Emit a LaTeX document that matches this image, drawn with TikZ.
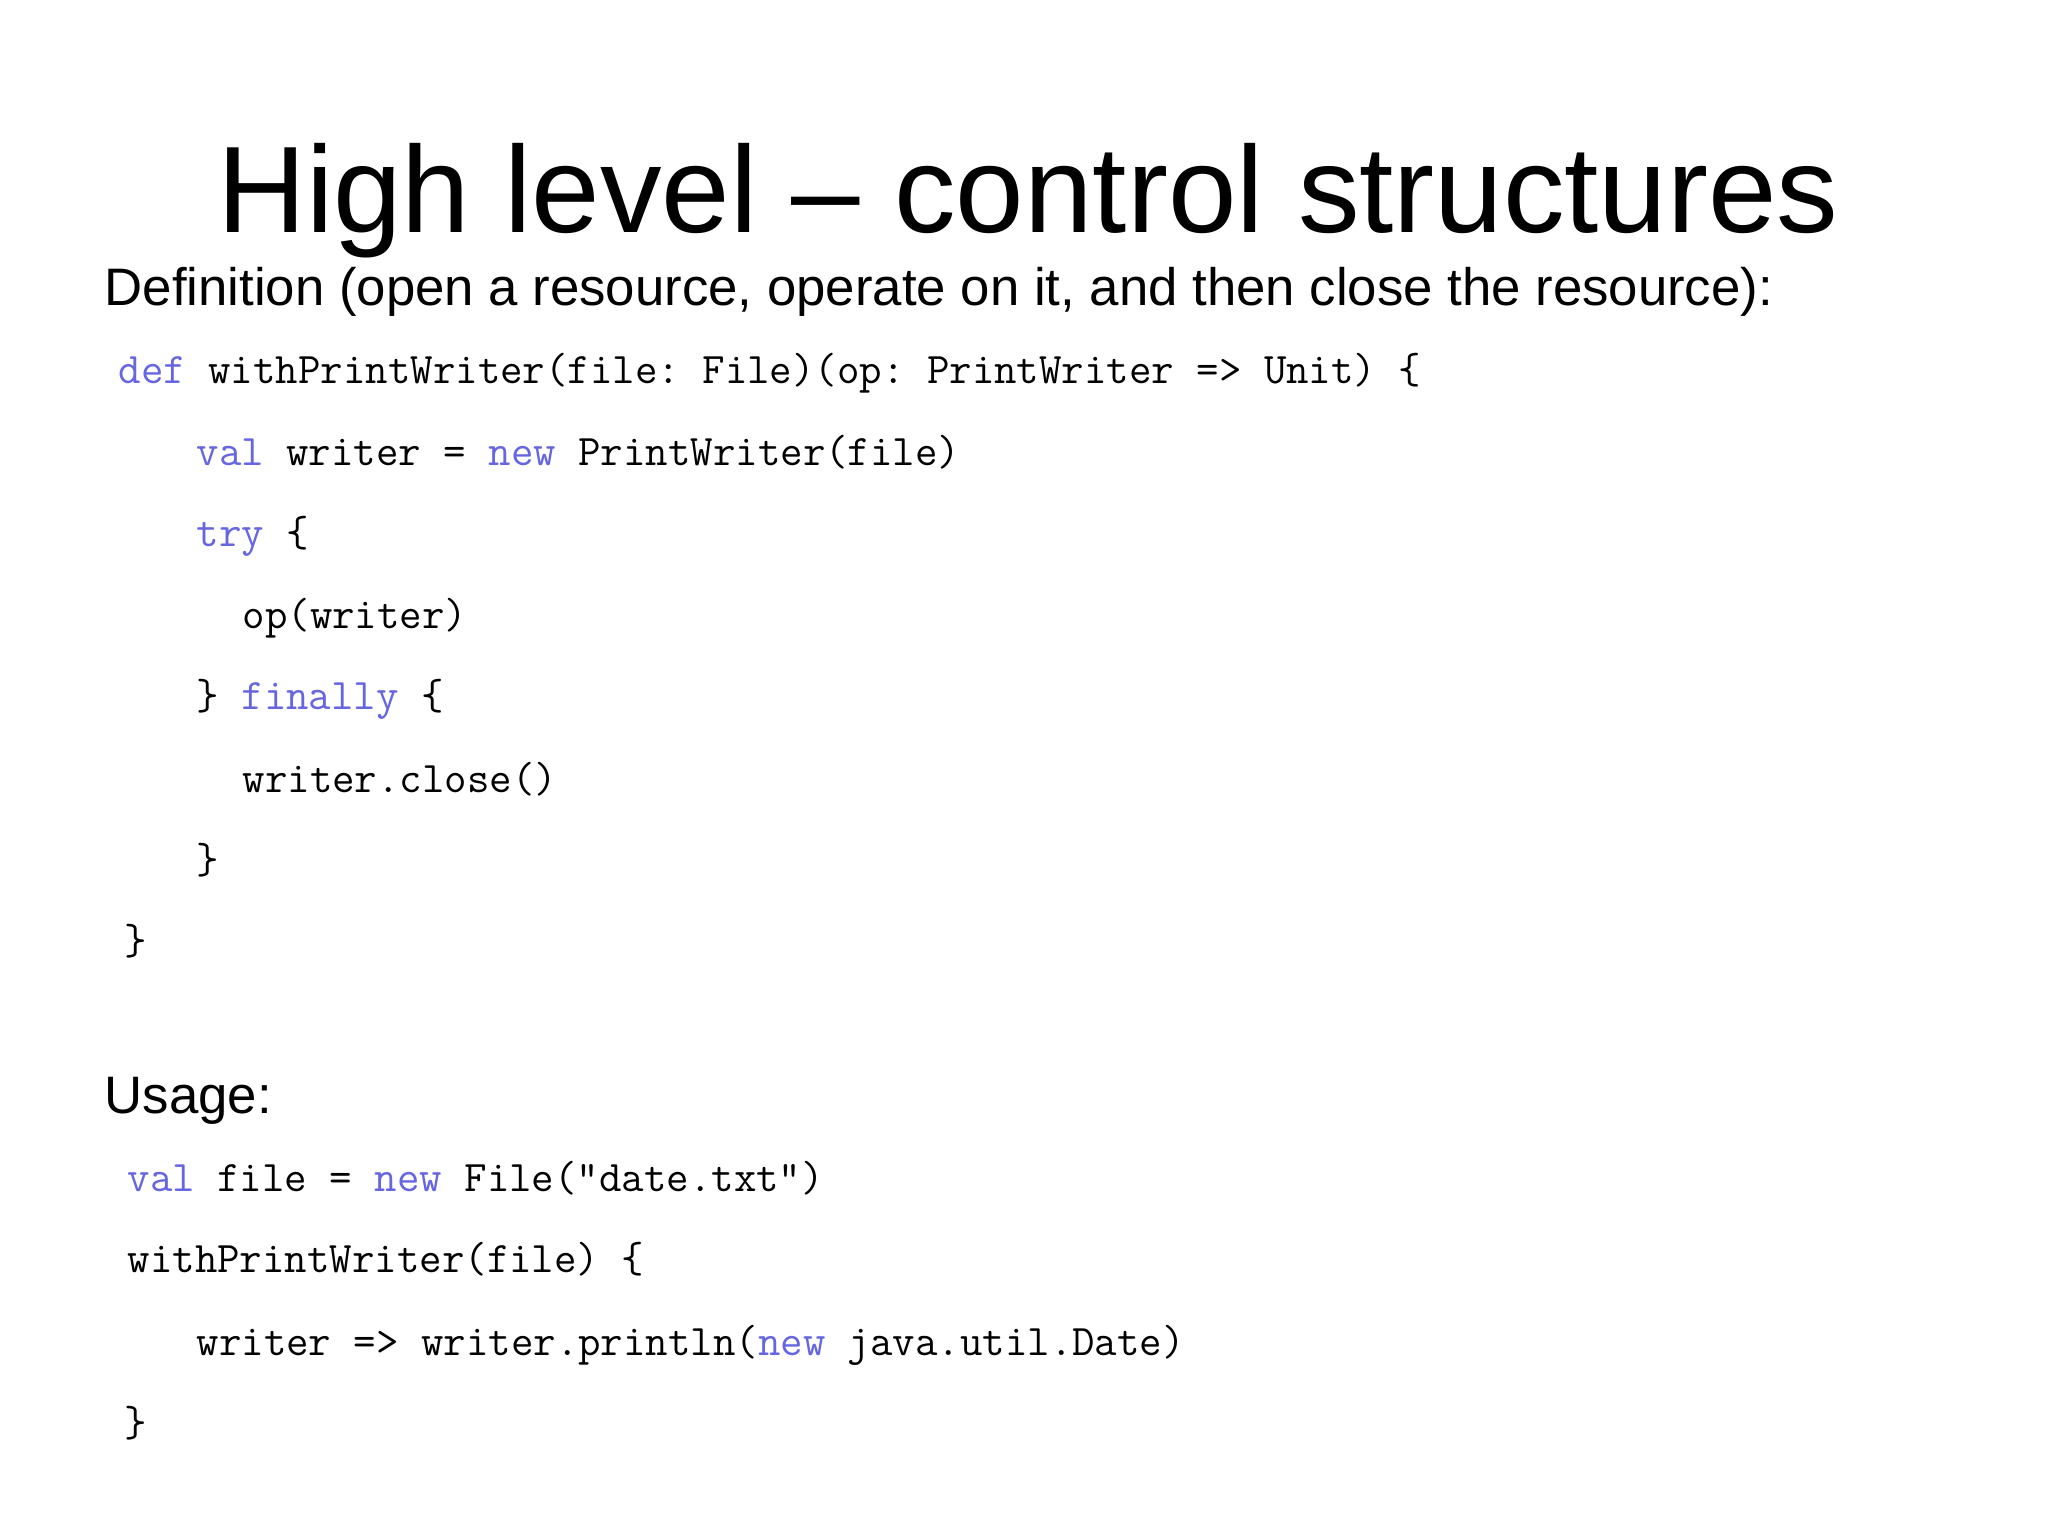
\documentclass[tikz,border=0pt]{standalone}
\usepackage{fontspec}
\setmainfont{Liberation Sans}
\setmonofont{Latin Modern Mono}
\definecolor{kw}{RGB}{102,102,224}
\newcommand{\kwd}[1]{\textcolor{kw}{#1}}
\begin{document}
\begin{tikzpicture}[x=0.01cm,y=-0.01cm,
  code/.style={anchor=base west,inner sep=0pt,font=\ttfamily\fontsize{12.4}{14}\selectfont},
  txt/.style={anchor=base west,inner sep=0pt,font=\fontsize{15}{18}\selectfont}]
\useasboundingbox (0,0) rectangle (2048,1535);
\node[anchor=base,inner sep=0pt,font=\fontsize{35}{40}\selectfont] (title) at (1028,232) {High level – control structures};
\node[txt] (def) at (104,305) {Definition (open a resource, operate on it, and then close the resource):};
\node[code] (c1) at (118,383) {\kwd{def} withPrintWriter(file: File)(op: PrintWriter => Unit) \{};
\node[code] (c2) at (196,465) {\kwd{val} writer = \kwd{new} PrintWriter(file)};
\node[code] (c3) at (196,546) {\kwd{try} \{};
\node[code] (c4) at (242,628) {op(writer)};
\node[code] (c5) at (196,709) {\} \kwd{finally} \{};
\node[code] (c6) at (242,792) {writer.close()};
\node[code] (c7) at (196,873) {\}};
\node[code] (c8) at (124,954) {\}};
\node[txt] (usage) at (104,1113) {Usage:};
\node[code] (u1) at (127,1191) {\kwd{val} file = \kwd{new} File("date.txt")};
\node[code] (u2) at (127,1272) {withPrintWriter(file) \{};
\node[code] (u3) at (196,1355) {writer => writer.println(\kwd{new} java.util.Date)};
\node[code] (u4) at (124,1436) {\}};
\end{tikzpicture}
\end{document}
